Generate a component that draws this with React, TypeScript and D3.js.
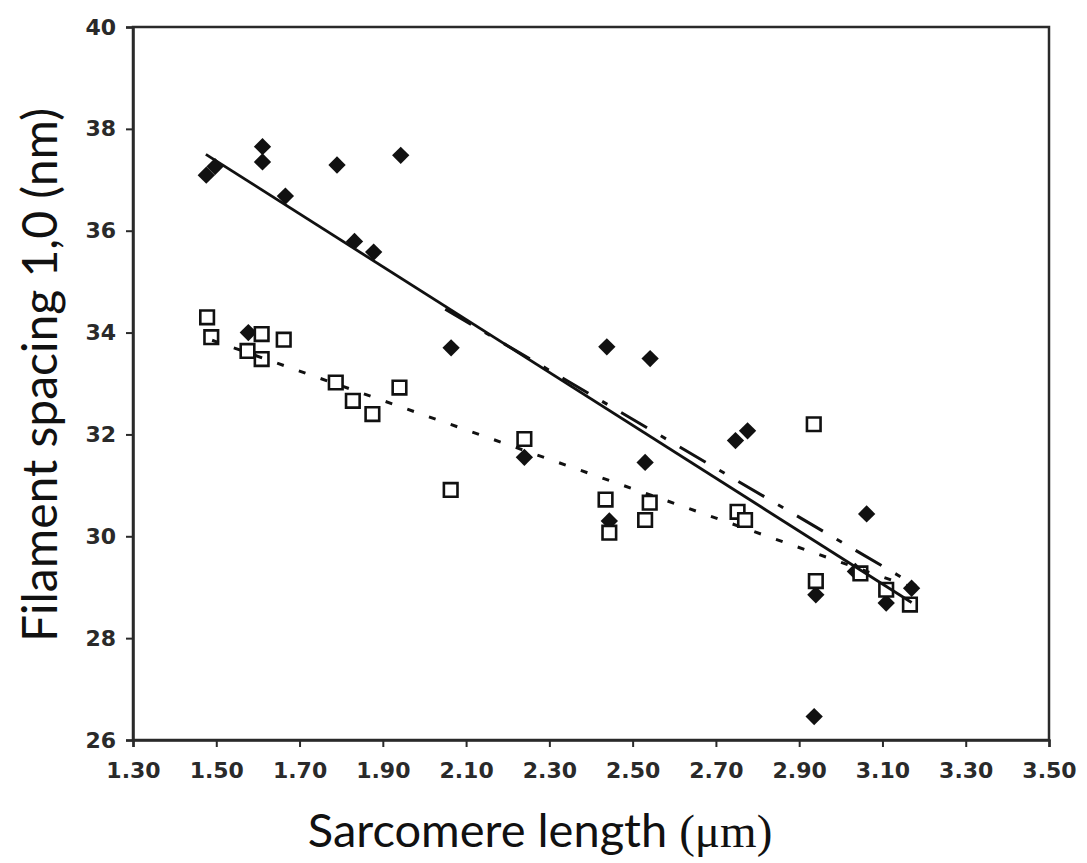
import React, { useEffect, useRef } from 'react';
import * as d3 from 'd3';

// filled diamonds: [sarcomere length, filament spacing]
const diamondPoints: [number, number][] = [
  [1.476, 37.09], [1.497, 37.26], [1.611, 37.65], [1.611, 37.35], [1.666, 36.68],
  [1.79, 37.29], [1.943, 37.48], [1.832, 35.79], [1.878, 35.58], [1.577, 34.0],
  [2.064, 33.7], [2.24, 31.55], [2.438, 33.72], [2.542, 33.49], [2.53, 31.45],
  [2.747, 31.88], [2.776, 32.07], [2.444, 30.3], [2.94, 28.85], [2.936, 26.46],
  [3.062, 30.44], [3.035, 29.31], [3.109, 28.69], [3.17, 28.98],
];

// open squares
const squarePoints: [number, number][] = [
  [1.478, 34.3], [1.488, 33.91], [1.575, 33.64], [1.609, 33.97], [1.609, 33.48],
  [1.662, 33.86], [1.787, 33.02], [1.828, 32.66], [1.875, 32.4], [1.94, 32.92],
  [2.063, 30.91], [2.24, 31.91], [2.435, 30.72], [2.444, 30.07], [2.541, 30.66],
  [2.53, 30.32], [2.752, 30.48], [2.77, 30.32], [2.935, 32.2], [2.94, 29.12],
  [3.047, 29.27], [3.109, 28.95], [3.166, 28.66],
];

// fitted trend lines (end points)
const solidFit: [number, number][] = [[1.475, 37.5], [3.17, 28.7]];
const dashDotFit: [number, number][] = [[2.05, 34.46], [3.18, 29.03]];
const dottedFit: [number, number][] = [[1.49, 33.85], [3.17, 29.0]];

const xTicks = [1.3, 1.5, 1.7, 1.9, 2.1, 2.3, 2.5, 2.7, 2.9, 3.1, 3.3, 3.5];
const yTicks = [26, 28, 30, 32, 34, 36, 38, 40];

const App = () => {
  const svgRef = useRef<SVGSVGElement>(null);

  useEffect(() => {
    document.body.style.margin = '0';
    const svg = d3.select(svgRef.current);
    const width = 1087;
    const height = 863;
    const margin = { top: 27, right: 38, bottom: 123, left: 133 };

    svg.attr('width', width).attr('height', height).style('background', '#fff');

    const xScale = d3.scaleLinear().domain([1.3, 3.5]).range([margin.left, width - margin.right]);
    const yScale = d3.scaleLinear().domain([26, 40]).range([height - margin.bottom, margin.top]);

    const tickFont = '"DejaVu Sans", sans-serif';

    // frame
    svg
      .append('rect')
      .attr('x', xScale(1.3))
      .attr('y', yScale(40))
      .attr('width', xScale(3.5) - xScale(1.3))
      .attr('height', yScale(26) - yScale(40))
      .attr('fill', 'none')
      .attr('stroke', '#2a2a2a')
      .attr('stroke-width', 2.5);

    // Y axis
    const yAxis = svg
      .append('g')
      .attr('transform', `translate(${margin.left},0)`)
      .call(d3.axisLeft(yScale).tickValues(yTicks).tickSize(7).tickPadding(10).tickFormat(d3.format('d')));
    yAxis.select('.domain').attr('stroke', '#2a2a2a').attr('stroke-width', 2.5);
    yAxis.selectAll('.tick line').attr('stroke', '#2a2a2a').attr('stroke-width', 2);
    yAxis
      .selectAll('.tick text')
      .attr('fill', '#2a2a2a')
      .style('font-family', tickFont)
      .style('font-weight', 'bold')
      .style('font-size', '22px');

    // X axis
    const xAxis = svg
      .append('g')
      .attr('transform', `translate(0,${yScale(26)})`)
      .call(d3.axisBottom(xScale).tickValues(xTicks).tickSize(7).tickPadding(15).tickFormat(d3.format('.2f')));
    xAxis.select('.domain').attr('stroke', '#2a2a2a').attr('stroke-width', 2.5);
    xAxis.selectAll('.tick line').attr('stroke', '#2a2a2a').attr('stroke-width', 2);
    xAxis
      .selectAll('.tick text')
      .attr('fill', '#2a2a2a')
      .style('font-family', tickFont)
      .style('font-weight', 'bold')
      .style('font-size', '22px');

    // markers
    const diamond = d3.symbol(d3.symbolSquare, 150)();
    svg
      .append('g')
      .selectAll('path')
      .data(diamondPoints)
      .enter()
      .append('path')
      .attr('d', diamond)
      .attr('transform', d => `translate(${xScale(d[0])},${yScale(d[1])}) rotate(45)`)
      .attr('fill', '#111');

    const square = d3.symbol(d3.symbolSquare, 185)();
    svg
      .append('g')
      .selectAll('path')
      .data(squarePoints)
      .enter()
      .append('path')
      .attr('d', square)
      .attr('transform', d => `translate(${xScale(d[0])},${yScale(d[1])})`)
      .attr('fill', '#fff')
      .attr('stroke', '#111')
      .attr('stroke-width', 2.6);

    // trend lines
    const line = d3
      .line<[number, number]>()
      .x(d => xScale(d[0]))
      .y(d => yScale(d[1]));

    svg.append('path').attr('d', line(solidFit)).attr('fill', 'none').attr('stroke', '#111').attr('stroke-width', 2.8);
    svg
      .append('path')
      .attr('d', line(dashDotFit))
      .attr('fill', 'none')
      .attr('stroke', '#111')
      .attr('stroke-width', 3)
      .attr('stroke-dasharray', '30,16,6,16');
    svg
      .append('path')
      .attr('d', line(dottedFit))
      .attr('fill', 'none')
      .attr('stroke', '#111')
      .attr('stroke-width', 3)
      .attr('stroke-dasharray', '7,16');

    // axis titles
    const xTitle = svg
      .append('text')
      .attr('x', 540)
      .attr('y', 847)
      .attr('text-anchor', 'middle')
      .attr('fill', '#111')
      .style('font-family', 'Lato, sans-serif')
      .style('font-size', '47px');
    xTitle.append('tspan').text('Sarcomere length ');
    xTitle.append('tspan').style('font-family', '"Liberation Serif", serif').text('(μm)');

    svg
      .append('text')
      .attr('transform', `translate(57,${375}) rotate(-90)`)
      .attr('text-anchor', 'middle')
      .attr('fill', '#111')
      .style('font-family', 'Lato, sans-serif')
      .style('font-size', '48px')
      .text('Filament spacing 1,0 (nm)');

    return () => {
      svg.selectAll('*').remove();
    };
  }, []);

  return <svg ref={svgRef}></svg>;
};

export default App;
